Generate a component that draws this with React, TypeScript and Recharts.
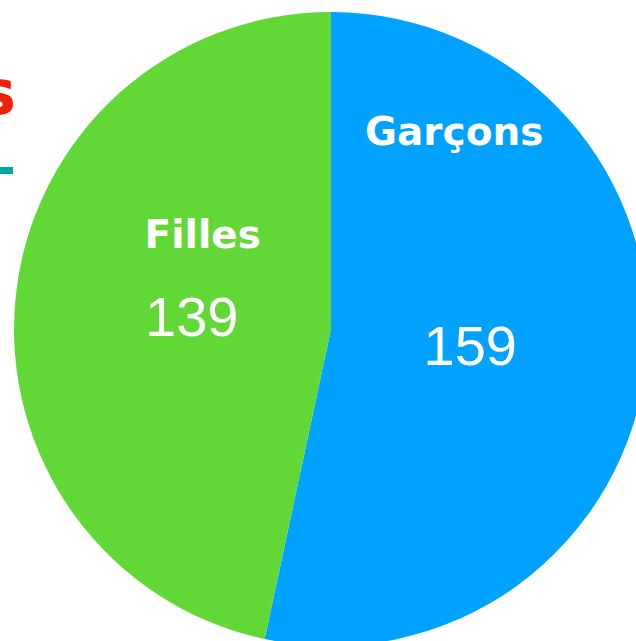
import { PieChart, Pie, Cell } from "recharts";

const categories = ["Garçons", "Filles"];
const counts = [159, 139];
const colors = ["#00A2FF", "#61D836"];

const data = categories.map((name, i) => ({ name, value: counts[i] }));

// offset of the name relative to the number, per slice
const nameOffsets = [
  { dx: -16, dy: -214 },
  { dx: 11, dy: -82 },
];

const RADIAN = Math.PI / 180;

function renderLabel(props: any) {
  const { cx, cy, midAngle, index, value, name } = props;
  const r = 140;
  const x = cx + r * Math.cos(-midAngle * RADIAN);
  const y = cy + r * Math.sin(-midAngle * RADIAN) + 2;
  const off = nameOffsets[index];
  return (
    <g>
      <text
        x={x + off.dx}
        y={y + off.dy}
        fill="#fff"
        textAnchor="middle"
        dominantBaseline="central"
        fontFamily="DejaVu Sans"
        fontWeight="bold"
        fontSize={39}
      >
        {name}
      </text>
      <text
        x={x}
        y={y}
        fill="#fff"
        textAnchor="middle"
        dominantBaseline="central"
        fontFamily="Liberation Sans, Arial, sans-serif"
        fontSize={56}
      >
        {value}
      </text>
    </g>
  );
}

export default function App() {
  return (
    <div
      style={{
        position: "fixed",
        left: 0,
        top: 0,
        width: 636,
        height: 641,
        overflow: "hidden",
        background: "#fff",
      }}
    >
      <PieChart width={700} height={700} margin={{ top: 0, right: 0, bottom: 0, left: 0 }}>
        <Pie
          data={data}
          dataKey="value"
          nameKey="name"
          cx={331}
          cy={329}
          outerRadius={317}
          startAngle={90}
          endAngle={-270}
          stroke="none"
          label={renderLabel}
          labelLine={false}
          isAnimationActive={false}
        >
          {data.map((d, i) => (
            <Cell key={d.name} fill={colors[i]} />
          ))}
        </Pie>
      </PieChart>
      <span
        style={{
          position: "absolute",
          left: -60,
          top: 62,
          width: 76,
          textAlign: "right",
          color: "#EE220C",
          fontFamily: "DejaVu Sans",
          fontWeight: "bold",
          fontSize: 62,
          lineHeight: "62px",
        }}
      >
        s
      </span>
      <div
        style={{
          position: "absolute",
          left: 0,
          top: 167,
          width: 13,
          height: 7,
          background: "#00A89D",
        }}
      />
    </div>
  );
}
